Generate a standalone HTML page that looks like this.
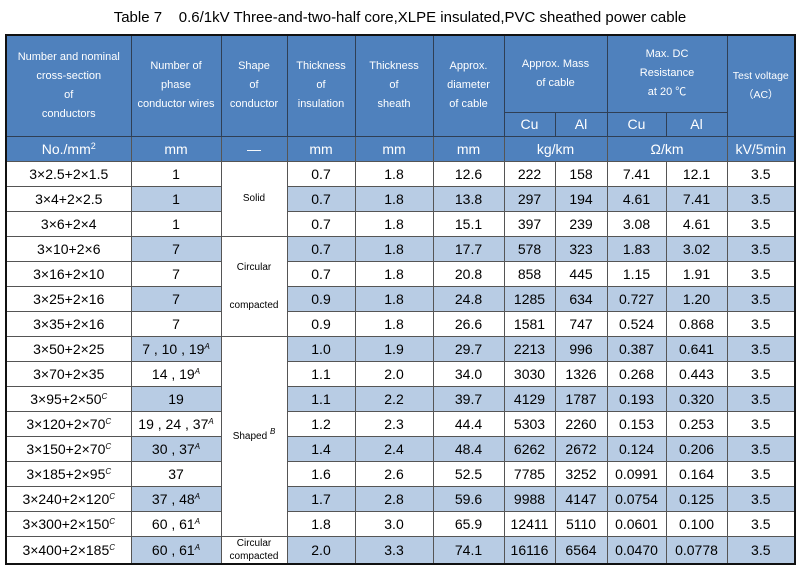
<!DOCTYPE html>
<html><head><meta charset="utf-8"><style>
body{margin:0;width:800px;height:575px;background:#fff;font-family:"Liberation Sans","Noto Sans CJK SC",sans-serif;position:relative;overflow:hidden}
#title{position:absolute;left:0;top:9px;width:800px;text-align:center;font-size:15px;color:#000;white-space:pre}
table{position:absolute;left:5px;top:34px;border-collapse:collapse;table-layout:fixed;width:789px;border:2px solid #111}
td{padding:0;text-align:center;vertical-align:middle;border:1px solid #555;font-size:14px;color:#000}
.h td{background:#4f81bd;color:#fff;font-size:11px;line-height:19px;border-color:#2f3f55}
.u td{background:#4f81bd;color:#fff;font-size:14px}
tr.d{height:25px}
tr.b td.s{background:#b8cce4}
td.shape{font-size:10px;background:#fff;line-height:19px}
sup{font-size:8px;font-style:italic;vertical-align:5px;line-height:0}
</style></head><body>
<div id="title">Table 7    0.6/1kV Three-and-two-half core,XLPE insulated,PVC sheathed power cable</div>
<table>
<colgroup><col style="width:125px"><col style="width:90px"><col style="width:66px"><col style="width:68px"><col style="width:78px"><col style="width:71px"><col style="width:51px"><col style="width:52px"><col style="width:59px"><col style="width:61px"><col style="width:68px"></colgroup>
<tr class="h" style="height:77px">
<td rowspan="2">Number and nominal<br>cross-section<br>of<br>conductors</td>
<td rowspan="2">Number of<br>phase<br>conductor wires</td>
<td rowspan="2">Shape<br>of<br>conductor</td>
<td rowspan="2">Thickness<br>of<br>insulation</td>
<td rowspan="2">Thickness<br>of<br>sheath</td>
<td rowspan="2">Approx.<br>diameter<br>of cable</td>
<td colspan="2">Approx. Mass<br>of cable</td>
<td colspan="2">Max. DC<br>Resistance<br>at 20 ℃</td>
<td rowspan="2" style="font-size:10.5px">Test voltage<br>（AC）</td>
</tr>
<tr class="h" style="height:24px">
<td style="font-size:14px">Cu</td><td style="font-size:14px">Al</td>
<td style="font-size:14px">Cu</td><td style="font-size:14px">Al</td>
</tr>
<tr class="u" style="height:25px">
<td>No./mm<sup style="font-style:normal;font-size:9px">2</sup></td><td>mm</td><td>—</td><td>mm</td><td>mm</td><td>mm</td><td colspan="2">kg/km</td><td colspan="2">Ω/km</td><td>kV/5min</td>
</tr>
<tbody id="body"></tbody>
</table>
<script>
const sizes=["3×2.5+2×1.5","3×4+2×2.5","3×6+2×4","3×10+2×6","3×16+2×10","3×25+2×16","3×35+2×16","3×50+2×25","3×70+2×35","3×95+2×50<sup>C</sup>","3×120+2×70<sup>C</sup>","3×150+2×70<sup>C</sup>","3×185+2×95<sup>C</sup>","3×240+2×120<sup>C</sup>","3×300+2×150<sup>C</sup>","3×400+2×185<sup>C</sup>"];
const wires=["1","1","1","7","7","7","7","7 , 10 , 19<sup>A</sup>","14 , 19<sup>A</sup>","19","19 , 24 , 37<sup>A</sup>","30 , 37<sup>A</sup>","37","37 , 48<sup>A</sup>","60 , 61<sup>A</sup>","60 , 61<sup>A</sup>"];
const insul=["0.7","0.7","0.7","0.7","0.7","0.9","0.9","1.0","1.1","1.1","1.2","1.4","1.6","1.7","1.8","2.0"];
const sheath=["1.8","1.8","1.8","1.8","1.8","1.8","1.8","1.9","2.0","2.2","2.3","2.4","2.6","2.8","3.0","3.3"];
const diam=["12.6","13.8","15.1","17.7","20.8","24.8","26.6","29.7","34.0","39.7","44.4","48.4","52.5","59.6","65.9","74.1"];
const massCu=["222","297","397","578","858","1285","1581","2213","3030","4129","5303","6262","7785","9988","12411","16116"];
const massAl=["158","194","239","323","445","634","747","996","1326","1787","2260","2672","3252","4147","5110","6564"];
const resCu=["7.41","4.61","3.08","1.83","1.15","0.727","0.524","0.387","0.268","0.193","0.153","0.124","0.0991","0.0754","0.0601","0.0470"];
const resAl=["12.1","7.41","4.61","3.02","1.91","1.20","0.868","0.641","0.443","0.320","0.253","0.206","0.164","0.125","0.100","0.0778"];
const volt=["3.5","3.5","3.5","3.5","3.5","3.5","3.5","3.5","3.5","3.5","3.5","3.5","3.5","3.5","3.5","3.5"];
const shapes={0:[3,"Solid"],3:[4,"Circular<br><br>compacted"],7:[8,"Shaped <sup>B</sup>"],15:[1,"Circular<br>compacted"]};
const tb=document.getElementById('body');
for(let i=0;i<sizes.length;i++){
  const tr=document.createElement('tr');
  tr.className='d'+(i%2?' b':'');
  
  
  let h='<td>'+sizes[i]+'</td><td class="s">'+wires[i]+'</td>';
  if(shapes[i]){h+='<td class="shape" rowspan="'+shapes[i][0]+'"'+(i==15?' style="line-height:13px;font-size:10px"':'')+'>'+shapes[i][1]+'</td>';}
  [insul,sheath,diam,massCu,massAl,resCu,resAl,volt].forEach(a=>{h+='<td class="s">'+a[i]+'</td>';});
  tr.innerHTML=h;
  tb.appendChild(tr);
}
</script>
</body></html>
